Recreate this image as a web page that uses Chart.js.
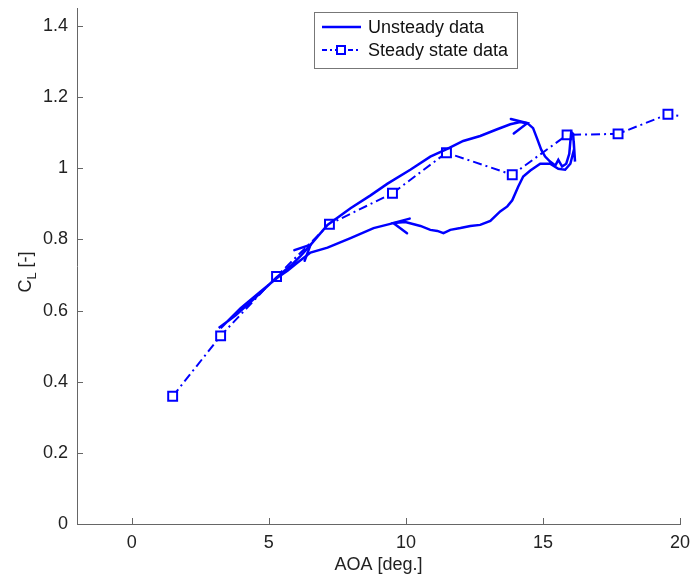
<!DOCTYPE html>
<html>
<head>
<meta charset="utf-8">
<script src="https://cdn.jsdelivr.net/npm/chart.js@4"></script>
<style>
  html, body { margin: 0; padding: 0; background: #fff; }
  canvas { display: block; }
</style>
</head>
<body>
<canvas id="chart" width="691" height="578"></canvas>
<script>
/* ================= DATA ================= */
const steadyAoa = [1.49, 3.24, 5.28, 7.21, 9.51, 11.48, 13.88, 15.88, 17.74, 19.56, 21.5];
const steadyCl  = [0.359, 0.529, 0.696, 0.843, 0.930, 1.044, 0.982, 1.094, 1.097, 1.152, 1.13];

const unsteadyAoa = [
  3.17, 3.79, 4.52, 5.28, 5.79, 6.16, 6.52, 7.14, 7.98, 8.71,
  9.33, 10.16, 10.89, 11.51, 12.09, 12.71, 13.33, 13.81, 14.17, 14.43,
  14.64, 14.79, 14.94, 15.08, 15.26, 15.45, 15.56, 15.70, 15.85, 15.96,
  16.03, 16.10, 16.17, 16.14, 16.00, 15.81, 15.56, 15.26, 14.90, 14.54,
  14.28, 14.10, 13.88, 13.70, 13.44, 13.08, 12.71, 12.35, 11.99, 11.62,
  11.37, 11.15, 10.89, 10.53, 9.98, 9.54, 8.82, 7.98, 7.14, 6.52,
  6.05, 5.68, 5.32, 4.70, 3.97, 3.24
];
const unsteadyCl = [
  0.551, 0.587, 0.637, 0.693, 0.726, 0.754, 0.785, 0.841, 0.888, 0.924,
  0.957, 0.996, 1.033, 1.055, 1.077, 1.091, 1.110, 1.124, 1.130, 1.127,
  1.113, 1.083, 1.052, 1.033, 1.019, 1.008, 1.024, 1.005, 1.013, 1.041,
  1.102, 1.097, 1.019, 1.055, 1.013, 0.996, 0.999, 1.013, 1.013, 0.994,
  0.977, 0.949, 0.910, 0.893, 0.879, 0.852, 0.841, 0.838, 0.832, 0.827,
  0.818, 0.824, 0.827, 0.838, 0.849, 0.846, 0.832, 0.804, 0.777, 0.763,
  0.735, 0.712, 0.693, 0.654, 0.607, 0.551
];

// points of the unsteady path where a direction arrow sits
const arrowIdx = [6, 55, 19];

const xTicks = [0, 5, 10, 15, 20];
const yTicks = [0, 0.2, 0.4, 0.6, 0.8, 1, 1.2, 1.4];

/* ================= STYLE ================= */
const BLUE = "#0000ff";
const AXIS = "#666";
const FONT = '"Liberation Sans", Arial, sans-serif';

/* ================= EXTRAS PLUGIN ================= */
const extras = {
  id: "extras",
  afterDatasetsDraw(chart) {
    const { ctx, scales: { x, y } } = chart;
    ctx.save();
    ctx.strokeStyle = BLUE;
    ctx.lineWidth = 2.5;
    ctx.lineCap = "round";
    arrowIdx.forEach(i => {
      const px = x.getPixelForValue(unsteadyAoa[i]);
      const py = y.getPixelForValue(unsteadyCl[i]);
      // heading taken from the path a few samples back
      const ang = Math.atan2(
        py - y.getPixelForValue(unsteadyCl[i - 3]),
        px - x.getPixelForValue(unsteadyAoa[i - 3])
      );
      const len = 17, half = 0.45;
      ctx.beginPath();
      ctx.moveTo(px - len * Math.cos(ang - half), py - len * Math.sin(ang - half));
      ctx.lineTo(px, py);
      ctx.lineTo(px - len * Math.cos(ang + half), py - len * Math.sin(ang + half));
      ctx.stroke();
    });
    ctx.restore();
  },
  afterDraw(chart) {
    const { ctx, chartArea: a, scales: { x, y } } = chart;
    ctx.save();

    // inward tick marks
    ctx.strokeStyle = AXIS;
    ctx.lineWidth = 1;
    ctx.beginPath();
    xTicks.forEach(v => {
      const px = Math.round(x.getPixelForValue(v)) + 0.5;
      ctx.moveTo(px, a.bottom);
      ctx.lineTo(px, a.bottom - 6);
    });
    yTicks.forEach(v => {
      const py = Math.round(y.getPixelForValue(v)) + 0.5;
      ctx.moveTo(a.left, py);
      ctx.lineTo(a.left + 6, py);
    });
    ctx.stroke();

    // axis titles
    ctx.fillStyle = "#222";
    ctx.font = "18px " + FONT;
    ctx.textAlign = "center";
    ctx.textBaseline = "middle";
    ctx.fillText("AOA [deg.]", (a.left + a.right) / 2, 565);

    ctx.save();
    ctx.translate(26, 272);
    ctx.rotate(-Math.PI / 2);
    ctx.textAlign = "left";
    const wC = ctx.measureText("C").width;
    ctx.font = "13px " + FONT;
    const wL = ctx.measureText("L").width;
    ctx.font = "18px " + FONT;
    const wR = ctx.measureText(" [-]").width;
    let sx = -(wC + wL + wR) / 2;
    ctx.fillText("C", sx, 0);
    ctx.font = "13px " + FONT;
    ctx.fillText("L", sx + wC, 6);
    ctx.font = "18px " + FONT;
    ctx.fillText(" [-]", sx + wC + wL, 0);
    ctx.restore();

    // legend
    ctx.fillStyle = "#fff";
    ctx.fillRect(314, 12, 203, 56);
    ctx.strokeStyle = "#777";
    ctx.lineWidth = 1;
    ctx.strokeRect(314.5, 12.5, 203, 56);

    ctx.strokeStyle = BLUE;
    ctx.lineWidth = 2.5;
    ctx.beginPath();
    ctx.moveTo(322, 27);
    ctx.lineTo(361, 27);
    ctx.stroke();

    ctx.lineWidth = 2;
    ctx.setLineDash([5, 3, 2, 3]);
    ctx.beginPath();
    ctx.moveTo(322, 50);
    ctx.lineTo(361, 50);
    ctx.stroke();
    ctx.setLineDash([]);
    ctx.fillStyle = "#fff";
    ctx.fillRect(337, 46, 8, 8);
    ctx.strokeRect(337, 46, 8, 8);

    ctx.fillStyle = "#111";
    ctx.font = "18px " + FONT;
    ctx.textAlign = "left";
    ctx.fillText("Unsteady data", 368, 28);
    ctx.fillText("Steady state data", 368, 51);

    ctx.restore();
  }
};

/* ================= CHART ================= */
new Chart(document.getElementById("chart"), {
  type: "scatter",
  data: {
    datasets: [
      {
        label: "Unsteady data",
        data: unsteadyAoa.map((v, i) => ({ x: v, y: unsteadyCl[i] })),
        showLine: true,
        borderColor: BLUE,
        borderWidth: 2.5,
        pointRadius: 0,
        tension: 0
      },
      {
        label: "Steady state data",
        data: steadyAoa.map((v, i) => ({ x: v, y: steadyCl[i] })),
        showLine: true,
        borderColor: BLUE,
        borderWidth: 2,
        borderDash: [9, 4, 2, 4],
        pointStyle: "rect",
        pointRadius: 6.3,
        pointBorderWidth: 2,
        pointBorderColor: BLUE,
        pointBackgroundColor: "#fff",
        tension: 0
      }
    ]
  },
  options: {
    responsive: false,
    animation: false,
    layout: { padding: { left: 0, right: 11, top: 4, bottom: 0 } },
    plugins: {
      legend: { display: false },
      tooltip: { enabled: false }
    },
    scales: {
      x: {
        type: "linear",
        min: -2,
        max: 20,
        afterBuildTicks: s => { s.ticks = xTicks.map(v => ({ value: v })); },
        afterFit: s => { s.height = 54; s.paddingLeft = 0; s.paddingRight = 0; },
        grid: { display: false, drawTicks: false },
        border: { display: true, color: AXIS, width: 1 },
        ticks: {
          color: "#222",
          padding: 8,
          maxRotation: 0,
          font: { family: FONT, size: 18 },
          callback: v => String(v)
        }
      },
      y: {
        type: "linear",
        min: 0,
        max: 1.45,
        afterBuildTicks: s => { s.ticks = yTicks.map(v => ({ value: v })); },
        afterFit: s => { s.width = 77; s.paddingTop = 0; s.paddingBottom = 0; },
        grid: { display: false, drawTicks: false },
        border: { display: true, color: AXIS, width: 1 },
        ticks: {
          color: "#222",
          padding: 9,
          font: { family: FONT, size: 18 },
          callback: v => String(v)
        }
      }
    }
  },
  plugins: [extras]
});
</script>
</body>
</html>
